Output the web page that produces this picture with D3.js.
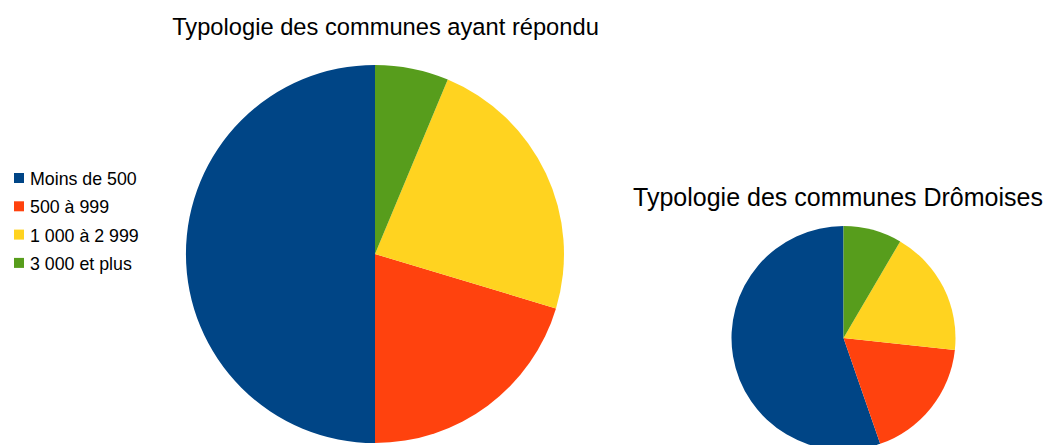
<!DOCTYPE html>
<html><head><meta charset="utf-8">
<script src="https://cdn.jsdelivr.net/npm/d3@7"></script>
<style>body{margin:0;background:#fff;} svg{display:block;font-family:"Liberation Sans",Arial,sans-serif;}</style>
</head><body>
<svg id="chart" width="1054" height="445"></svg>
<script>
const categories = ["Moins de 500", "500 à 999", "1 000 à 2 999", "3 000 et plus"];
const colors = ["#004586", "#ff420e", "#ffd320", "#579d1c"];
const respondedValues = [50, 20.35, 23.36, 6.29];
const dromeValues = [203, 66, 67, 31];
const titles = ["Typologie des communes ayant répondu", "Typologie des communes Drômoises"];

const svg = d3.select("#chart");
const color = d3.scaleOrdinal().domain(categories).range(colors);

function drawPie(values, cx, cy, r) {
  const pie = d3.pie().sort(null).value(d => d.v)
    .startAngle(0).endAngle(-2 * Math.PI);
  const arc = d3.arc().innerRadius(0).outerRadius(r);
  const data = categories.map((c, i) => ({c, v: values[i]}));
  svg.append("g").attr("transform", `translate(${cx},${cy})`)
    .selectAll("path").data(pie(data)).join("path")
    .attr("d", arc).attr("fill", d => color(d.data.c));
}

drawPie(respondedValues, 375, 254, 189);
drawPie(dromeValues, 843.5, 338, 112);

svg.append("text").attr("x", 385.5).attr("y", 35).attr("text-anchor", "middle")
  .attr("font-size", 23.7).attr("fill", "#000").text(titles[0]);
svg.append("text").attr("x", 838).attr("y", 206).attr("text-anchor", "middle")
  .attr("font-size", 25).attr("fill", "#000").text(titles[1]);

const legend = svg.append("g");
const items = legend.selectAll("g").data(categories).join("g")
  .attr("transform", (d, i) => `translate(14,${173 + i * 28.3})`);
items.append("rect").attr("width", 10).attr("height", 10).attr("fill", d => color(d));
items.append("text").attr("x", 16).attr("y", 12).attr("font-size", 17.8).attr("fill", "#000").text(d => d);
</script>
</body></html>
